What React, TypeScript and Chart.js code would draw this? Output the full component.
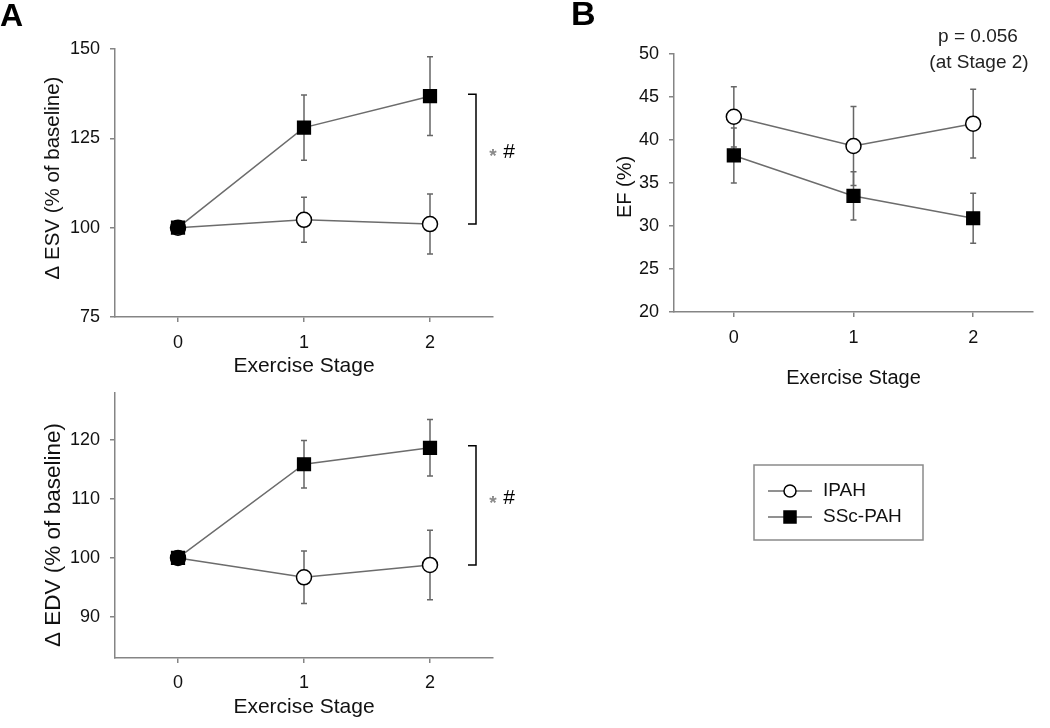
import { useEffect, useRef } from "react";
import { Chart, registerables } from "chart.js";

Chart.register(...registerables);

// ---------------- data ----------------
const stages = [0, 1, 2];
const stageLabels = ["0", "1", "2"];
const seriesNames = ["IPAH", "SSc-PAH"];

const esvIPAH = [100, 102.2, 101];
const esvIPAHErr = [0, 6.3, 8.4];
const esvSSc = [100, 128, 136.8];
const esvSScErr = [0, 9.1, 11];
const esvTicks = [75, 100, 125, 150];

const edvIPAH = [100, 96.7, 98.8];
const edvIPAHErr = [0, 4.45, 5.9];
const edvSSc = [100, 115.9, 118.7];
const edvSScErr = [0, 4.05, 4.8];
const edvTicks = [90, 100, 110, 120];

const efIPAH = [42.7, 39.3, 41.9];
const efIPAHErr = [3.5, 4.6, 4.0];
const efSSc = [38.2, 33.5, 30.9];
const efSScErr = [3.2, 2.8, 2.9];
const efTicks = [20, 25, 30, 35, 40, 45, 50];

// ---------------- styles ----------------
const FONT = "'Liberation Sans', Arial, Helvetica, sans-serif";
const AXIS = "#858585";
const LINE = "#6c6c6c";
const ERR = "#666666";
const TEXT = "#111111";

const errorBarPlugin = {
  id: "errorBars",
  beforeDatasetsDraw(chart: any) {
    const ctx = chart.ctx;
    const xs = chart.scales.x;
    const ys = chart.scales.y;
    ctx.save();
    ctx.strokeStyle = ERR;
    ctx.lineWidth = 1.5;
    chart.data.datasets.forEach((ds: any) => {
      ds.data.forEach((p: any, i: number) => {
        const e = ds.errors[i];
        if (!e) return;
        const px = xs.getPixelForValue(p.x);
        const top = ys.getPixelForValue(p.y + e);
        const bot = ys.getPixelForValue(p.y - e);
        ctx.beginPath();
        ctx.moveTo(px, top);
        ctx.lineTo(px, bot);
        ctx.moveTo(px - 3, top);
        ctx.lineTo(px + 3, top);
        ctx.moveTo(px - 3, bot);
        ctx.lineTo(px + 3, bot);
        ctx.stroke();
      });
    });
    ctx.restore();
  },
};

function makeDataset(label: string, vals: number[], errs: number[], filled: boolean) {
  return {
    label,
    data: stages.map((s, i) => ({ x: s, y: vals[i] })),
    errors: errs,
    borderColor: LINE,
    borderWidth: 1.5,
    pointStyle: filled ? "rect" : "circle",
    pointRadius: filled ? 9 : 7.5,
    pointHoverRadius: filled ? 9 : 7.5,
    pointBackgroundColor: filled ? "#000" : "#fff",
    pointBorderColor: "#000",
    pointBorderWidth: 1.5,
    tension: 0,
    fill: false,
    order: filled ? 0 : 1,
  };
}

function drawYTitle(chart: any, text: string, size: number, cx: number, cy: number) {
  const ctx = chart.ctx;
  ctx.save();
  ctx.translate(cx, cy);
  ctx.rotate(-Math.PI / 2);
  ctx.fillStyle = TEXT;
  ctx.font = `${size}px ${FONT}`;
  ctx.textAlign = "center";
  ctx.textBaseline = "middle";
  ctx.fillText(text, 0, 0);
  ctx.restore();
}

function makeConfig(p: any) {
  return {
    type: "line",
    data: {
      datasets: [
        makeDataset(seriesNames[0], p.ipah, p.ipahErr, false),
        makeDataset(seriesNames[1], p.ssc, p.sscErr, true),
      ],
    },
    options: {
      responsive: false,
      animation: false,
      devicePixelRatio: 1,
      events: [],
      layout: { padding: p.padding },
      plugins: { legend: { display: false }, tooltip: { enabled: false } },
      scales: {
        x: {
          type: "linear",
          min: -0.5,
          max: 2.5,
          afterBuildTicks: (s: any) => {
            s.ticks = stages.map((v) => ({ value: v }));
          },
          afterFit: (s: any) => {
            s.height = p.xHeight;
          },
          grid: {
            display: true,
            drawOnChartArea: false,
            drawTicks: true,
            tickLength: 5,
            color: AXIS,
            lineWidth: 1.5,
          },
          border: { display: true, color: AXIS, width: 1.5 },
          ticks: {
            font: { family: FONT, size: 18 },
            color: TEXT,
            padding: p.xTickPad,
            maxRotation: 0,
            callback: (v: number) => stageLabels[stages.indexOf(v)] ?? "",
          },
          title: {
            display: true,
            text: "Exercise Stage",
            font: { family: FONT, size: p.xTitleSize },
            color: TEXT,
            padding: { top: 0, bottom: p.xTitlePad },
          },
        },
        y: {
          type: "linear",
          min: p.yMin,
          max: p.yMax,
          afterBuildTicks: (s: any) => {
            s.ticks = p.yTicks.map((v: number) => ({ value: v }));
          },
          afterFit: (s: any) => {
            s.width = p.yWidth;
          },
          grid: {
            display: true,
            drawOnChartArea: false,
            drawTicks: true,
            tickLength: 5,
            color: AXIS,
            lineWidth: 1.5,
          },
          border: { display: true, color: AXIS, width: 1.5 },
          ticks: {
            font: { family: FONT, size: 18 },
            color: TEXT,
            padding: 10,
            callback: (v: number) => String(v),
          },
          title: { display: false },
        },
      },
    },
    plugins: [
      errorBarPlugin,
      {
        id: "annot",
        afterDraw: (chart: any) => {
          drawYTitle(chart, p.yTitle, p.yTitleSize, p.yTitleX, p.yTitleY);
          p.afterDraw(chart);
        },
      },
    ],
  };
}

function drawBracket(chart: any, ipah: number[], ssc: number[]) {
  const ctx = chart.ctx;
  const xs = chart.scales.x;
  const ys = chart.scales.y;
  const last = stages.length - 1;
  const bx = xs.getPixelForValue(stages[last]) + 46;
  const yTop = ys.getPixelForValue(ssc[last]) - 2;
  const yBot = ys.getPixelForValue(ipah[last]);
  ctx.save();
  ctx.strokeStyle = "#000";
  ctx.lineWidth = 1.5;
  ctx.beginPath();
  ctx.moveTo(bx - 8, yTop);
  ctx.lineTo(bx, yTop);
  ctx.lineTo(bx, yBot);
  ctx.lineTo(bx - 8, yBot);
  ctx.stroke();
  const mid = (yTop + yBot) / 2 - 7;
  ctx.textBaseline = "middle";
  ctx.textAlign = "center";
  ctx.fillStyle = "#8a8a8a";
  ctx.font = `bold 19px ${FONT}`;
  ctx.fillText("*", bx + 17, mid + 5);
  ctx.fillStyle = "#000";
  ctx.font = `21px ${FONT}`;
  ctx.fillText("#", bx + 33, mid);
  ctx.restore();
}

export default function App() {
  const r1 = useRef<HTMLCanvasElement>(null);
  const r2 = useRef<HTMLCanvasElement>(null);
  const r3 = useRef<HTMLCanvasElement>(null);

  useEffect(() => {
    const cfgA1 = makeConfig({
      padding: { top: 49, right: 27, bottom: 0, left: 0 },
      yWidth: 115,
      xHeight: 73,
      yMin: 75,
      yMax: 150,
      yTicks: esvTicks,
      yTitle: "Δ ESV (% of baseline)",
      yTitleSize: 20.5,
      yTitleX: 53,
      yTitleY: 178,
      xTitleSize: 21,
      xTickPad: 10,
      xTitlePad: 11,
      ipah: esvIPAH,
      ipahErr: esvIPAHErr,
      ssc: esvSSc,
      sscErr: esvSScErr,
      afterDraw: (chart: any) => {
        const ctx = chart.ctx;
        ctx.save();
        ctx.fillStyle = "#000";
        ctx.font = `bold 32px ${FONT}`;
        ctx.textAlign = "left";
        ctx.textBaseline = "alphabetic";
        ctx.fillText("A", 0, 26);
        ctx.restore();
        drawBracket(chart, esvIPAH, esvSSc);
      },
    });

    const cfgA2 = makeConfig({
      padding: { top: 23, right: 27, bottom: 0, left: 0 },
      yWidth: 115,
      xHeight: 70,
      yMin: 83,
      yMax: 128,
      yTicks: edvTicks,
      yTitle: "Δ EDV (% of baseline)",
      yTitleSize: 22.5,
      yTitleX: 54,
      yTitleY: 535 - 370,
      xTitleSize: 21,
      xTickPad: 9,
      xTitlePad: 8,
      ipah: edvIPAH,
      ipahErr: edvIPAHErr,
      ssc: edvSSc,
      sscErr: edvSScErr,
      afterDraw: (chart: any) => {
        drawBracket(chart, edvIPAH, edvSSc);
      },
    });

    const cfgB = makeConfig({
      padding: { top: 54, right: 17, bottom: 160, left: 0 },
      yWidth: 114,
      xHeight: 88,
      yMin: 20,
      yMax: 50,
      yTicks: efTicks,
      yTitle: "EF (%)",
      yTitleSize: 20,
      yTitleX: 625 - 560,
      yTitleY: 187,
      xTitleSize: 20,
      xTickPad: 10,
      xTitlePad: 10,
      ipah: efIPAH,
      ipahErr: efIPAHErr,
      ssc: efSSc,
      sscErr: efSScErr,
      afterDraw: (chart: any) => {
        const ctx = chart.ctx;
        ctx.save();
        // panel letter
        ctx.fillStyle = "#000";
        ctx.font = `bold 34px ${FONT}`;
        ctx.textAlign = "left";
        ctx.textBaseline = "alphabetic";
        ctx.fillText("B", 11, 25);
        // p-value note
        ctx.fillStyle = "#222";
        ctx.font = `19px ${FONT}`;
        ctx.textAlign = "center";
        ctx.textBaseline = "middle";
        ctx.fillText("p = 0.056", 418, 37);
        ctx.fillText("(at Stage 2)", 419, 63);
        // legend box
        ctx.strokeStyle = "#8a8a8a";
        ctx.lineWidth = 1.5;
        ctx.strokeRect(194, 465, 169, 75);
        const rows = [491, 517];
        chart.data.datasets.forEach((ds: any, i: number) => {
          const y = rows[i];
          ctx.strokeStyle = LINE;
          ctx.lineWidth = 1.5;
          ctx.beginPath();
          ctx.moveTo(208, y);
          ctx.lineTo(252, y);
          ctx.stroke();
          ctx.fillStyle = ds.pointBackgroundColor;
          ctx.strokeStyle = "#000";
          ctx.beginPath();
          if (ds.pointStyle === "rect") {
            ctx.rect(230 - 6, y - 6, 12, 12);
          } else {
            ctx.arc(230, y, 6, 0, Math.PI * 2);
          }
          ctx.fill();
          ctx.stroke();
          ctx.fillStyle = TEXT;
          ctx.font = `19px ${FONT}`;
          ctx.textAlign = "left";
          ctx.textBaseline = "middle";
          ctx.fillText(ds.label, 263, y);
        });
        ctx.restore();
      },
    });

    const charts = [
      new Chart(r1.current as HTMLCanvasElement, cfgA1 as any),
      new Chart(r2.current as HTMLCanvasElement, cfgA2 as any),
      new Chart(r3.current as HTMLCanvasElement, cfgB as any),
    ];
    return () => charts.forEach((c) => c.destroy());
  }, []);

  return (
    <div
      style={{
        position: "absolute",
        left: 0,
        top: 0,
        width: 1050,
        height: 728,
        background: "#ffffff",
        overflow: "hidden",
      }}
    >
      <canvas
        ref={r1}
        width={520}
        height={390}
        style={{ position: "absolute", left: 0, top: 0, width: 520, height: 390 }}
      />
      <canvas
        ref={r2}
        width={520}
        height={358}
        style={{ position: "absolute", left: 0, top: 370, width: 520, height: 358 }}
      />
      <canvas
        ref={r3}
        width={490}
        height={560}
        style={{ position: "absolute", left: 560, top: 0, width: 490, height: 560 }}
      />
    </div>
  );
}
